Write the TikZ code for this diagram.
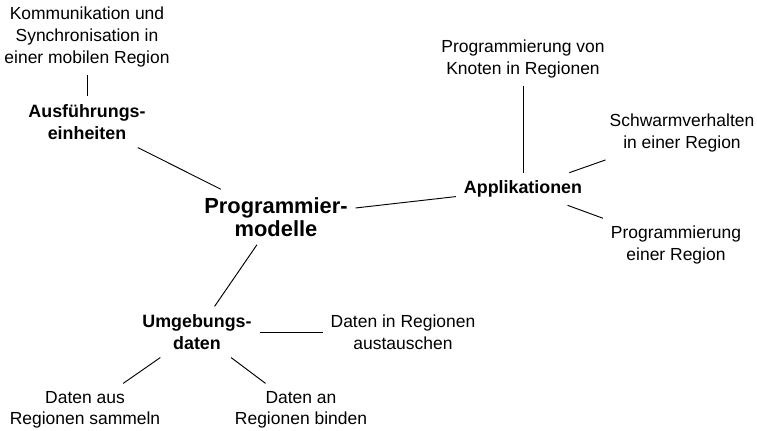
\documentclass[tikz,border=0pt]{standalone}
\usepackage{fontspec}
\setmainfont{Liberation Sans}
\begin{document}
\begin{tikzpicture}[x=0.75pt, y=-0.75pt,
  leaf/.style={align=center, font=\fontsize{13.1}{16.2}\selectfont, inner sep=1pt, outer sep=5pt},
  branch/.style={align=center, font=\fontsize{13.4}{16.5}\selectfont\bfseries, inner sep=1pt, outer sep=5pt},
  root/.style={align=center, font=\fontsize{16.4}{17.6}\selectfont\bfseries, inner sep=1pt, outer sep=5pt},
  link/.style={draw=black, line width=0.7pt}]
\useasboundingbox (0,0) rectangle (757,431);

% central topic
\node[root] (prog) at (276,217) {Programmier-\\modelle};

% main branches
\node[branch] (ausf) at (87,122) {Ausführungs-\\einheiten};
\node[branch] (appl) at (523,189) {Applikationen};
\node[branch] (umg)  at (197,332) {Umgebungs-\\daten};

% leaves
\node[leaf] (komm)      at (87,37)   {Kommunikation und\\Synchronisation in\\einer mobilen Region};
\node[leaf] (knoten)    at (523,59)  {Programmierung von\\Knoten in Regionen};
\node[leaf] (schwarm)   at (682,133) {Schwarmverhalten\\in einer Region};
\node[leaf] (progreg)   at (676,245) {Programmierung\\einer Region};
\node[leaf] (austausch) at (403,332) {Daten in Regionen\\austauschen};
\node[leaf] (sammeln)   at (85,410)  {Daten aus\\Regionen sammeln};
\node[leaf] (binden)    at (301,410) {Daten an\\Regionen binden};

% connectors
\draw[link] (prog) -- (ausf);
\draw[link] (prog) -- (appl);
\draw[link] (prog) -- (umg);
\draw[link] (ausf) -- (komm);
\draw[link] (appl) -- (knoten);
\draw[link] (appl) -- (schwarm);
\draw[link] (appl) -- (progreg);
\draw[link] (umg) -- (austausch);
\draw[link] (umg) -- (sammeln);
\draw[link] (umg) -- (binden);
\end{tikzpicture}
\end{document}
